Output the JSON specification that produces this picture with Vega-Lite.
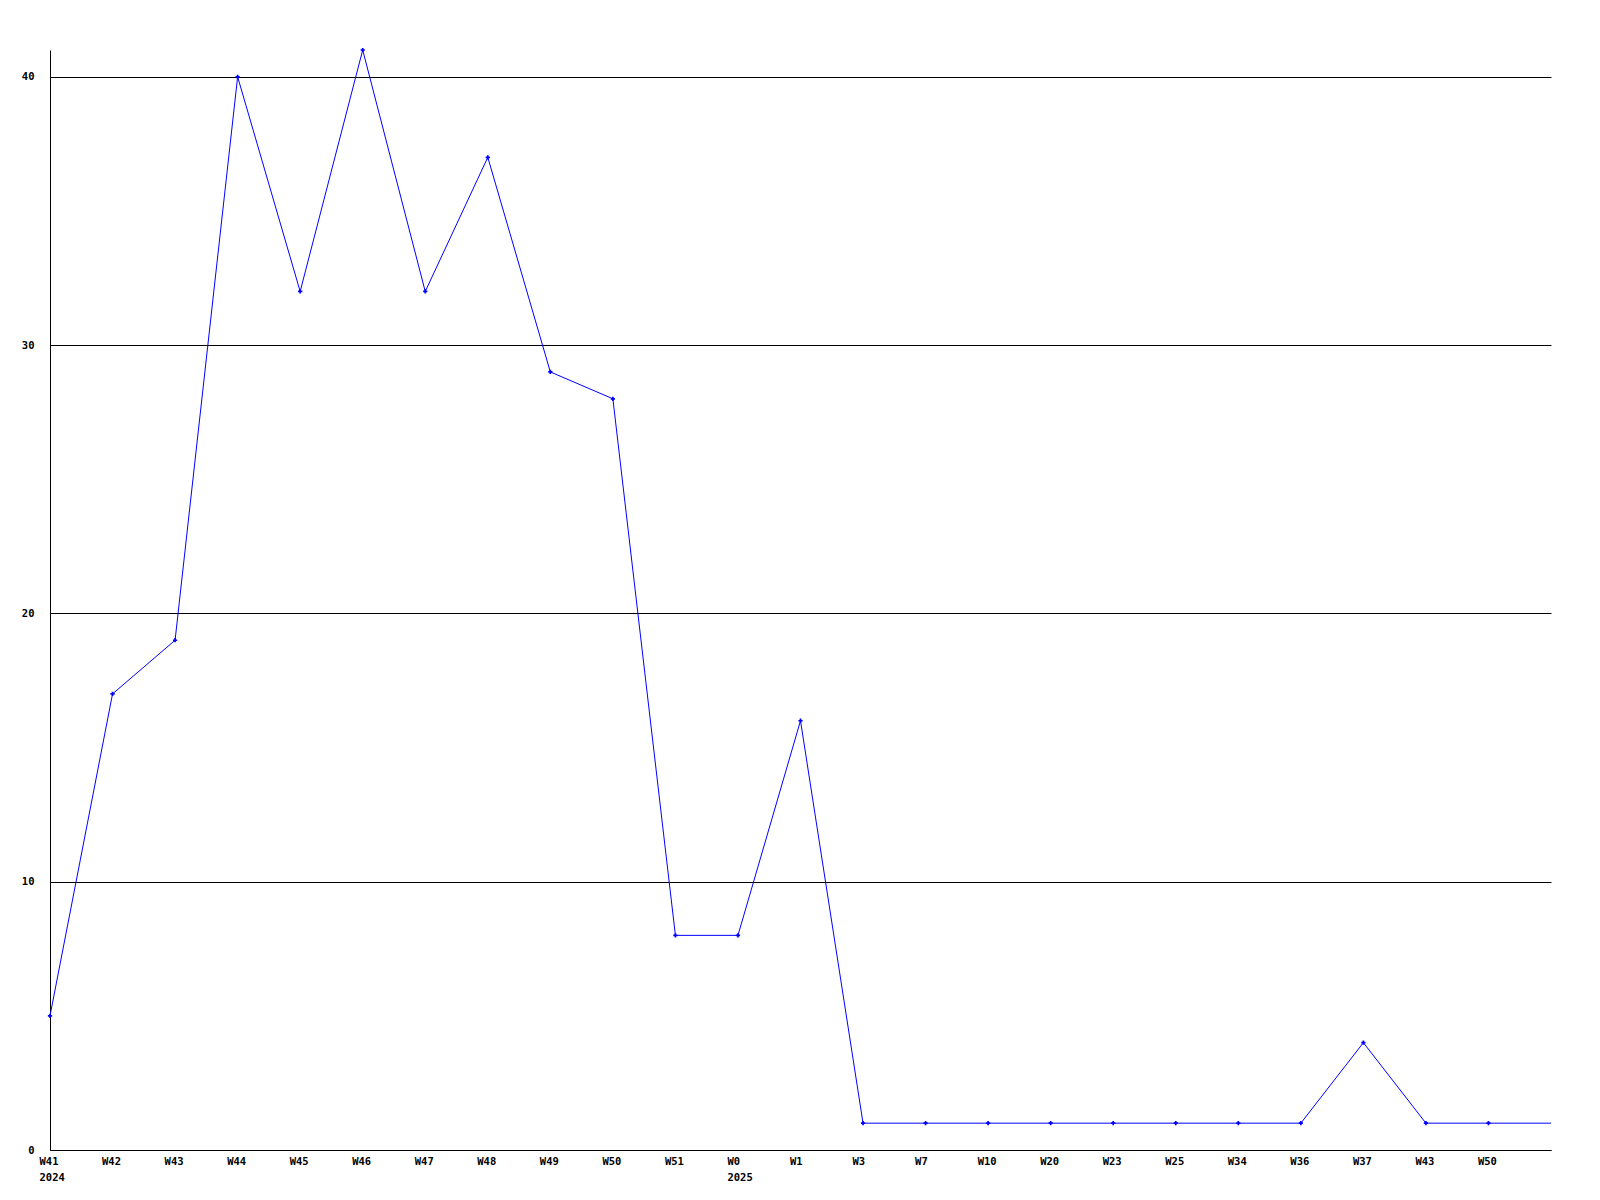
{
  "$schema": "https://vega.github.io/schema/vega-lite/v6.json",
  "width": 1501,
  "height": 1100,
  "autosize": {"type": "none"},
  "padding": {"left": 50, "top": 50, "right": 49, "bottom": 50},
  "background": "white",
  "config": {"view": {"stroke": null}},
  "data": {
    "values": [
      {"i": 0, "week": "W41", "year": "2024", "count": 5, "marker": true},
      {"i": 1, "week": "W42", "year": "", "count": 17, "marker": true},
      {"i": 2, "week": "W43", "year": "", "count": 19, "marker": true},
      {"i": 3, "week": "W44", "year": "", "count": 40, "marker": true},
      {"i": 4, "week": "W45", "year": "", "count": 32, "marker": true},
      {"i": 5, "week": "W46", "year": "", "count": 41, "marker": true},
      {"i": 6, "week": "W47", "year": "", "count": 32, "marker": true},
      {"i": 7, "week": "W48", "year": "", "count": 37, "marker": true},
      {"i": 8, "week": "W49", "year": "", "count": 29, "marker": true},
      {"i": 9, "week": "W50", "year": "", "count": 28, "marker": true},
      {"i": 10, "week": "W51", "year": "", "count": 8, "marker": true},
      {"i": 11, "week": "W0", "year": "2025", "count": 8, "marker": true},
      {"i": 12, "week": "W1", "year": "", "count": 16, "marker": true},
      {"i": 13, "week": "W3", "year": "", "count": 1, "marker": true},
      {"i": 14, "week": "W7", "year": "", "count": 1, "marker": true},
      {"i": 15, "week": "W10", "year": "", "count": 1, "marker": true},
      {"i": 16, "week": "W20", "year": "", "count": 1, "marker": true},
      {"i": 17, "week": "W23", "year": "", "count": 1, "marker": true},
      {"i": 18, "week": "W25", "year": "", "count": 1, "marker": true},
      {"i": 19, "week": "W34", "year": "", "count": 1, "marker": true},
      {"i": 20, "week": "W36", "year": "", "count": 1, "marker": true},
      {"i": 21, "week": "W37", "year": "", "count": 4, "marker": true},
      {"i": 22, "week": "W43", "year": "", "count": 1, "marker": true},
      {"i": 23, "week": "W50", "year": "", "count": 1, "marker": true},
      {"i": 24, "week": "", "year": "", "count": 1, "marker": false}
    ]
  },
  "encoding": {
    "x": {
      "field": "i",
      "type": "quantitative",
      "scale": {"domain": [0, 24], "nice": false, "zero": false},
      "axis": {
        "title": null,
        "grid": false,
        "ticks": false,
        "domainColor": "black",
        "domainWidth": 1,
        "values": [0,1,2,3,4,5,6,7,8,9,10,11,12,13,14,15,16,17,18,19,20,21,22,23],
        "labelExpr": "[['W41','2024'],'W42','W43','W44','W45','W46','W47','W48','W49','W50','W51',['W0','2025'],'W1','W3','W7','W10','W20','W23','W25','W34','W36','W37','W43','W50'][datum.value]",
        "labelAlign": "left",
        "labelBaseline": "top",
        "labelOffset": -11,
        "labelPadding": 6,
        "labelLineHeight": 16,
        "labelFont": "DejaVu Sans Mono",
        "labelFontWeight": "bold",
        "labelFontSize": 10.5,
        "labelColor": "black",
        "labelOverlap": false,
        "labelFlush": false
      }
    },
    "y": {
      "field": "count",
      "type": "quantitative",
      "scale": {"domain": [0, 41], "nice": false},
      "axis": {
        "title": null,
        "values": [0, 10, 20, 30, 40],
        "grid": true,
        "gridColor": "black",
        "gridOpacity": 1,
        "gridWidth": 1,
        "ticks": false,
        "domainColor": "black",
        "labelPadding": 16,
        "labelFont": "DejaVu Sans Mono",
        "labelFontWeight": "bold",
        "labelFontSize": 10.5,
        "labelColor": "black"
      }
    }
  },
  "layer": [
    {
      "mark": {"type": "line", "color": "#0000ff", "strokeWidth": 1}
    },
    {
      "transform": [{"filter": "datum.marker"}],
      "mark": {"type": "point", "shape": "cross", "filled": true, "color": "#0000ff", "size": 18, "opacity": 1}
    }
  ]
}
